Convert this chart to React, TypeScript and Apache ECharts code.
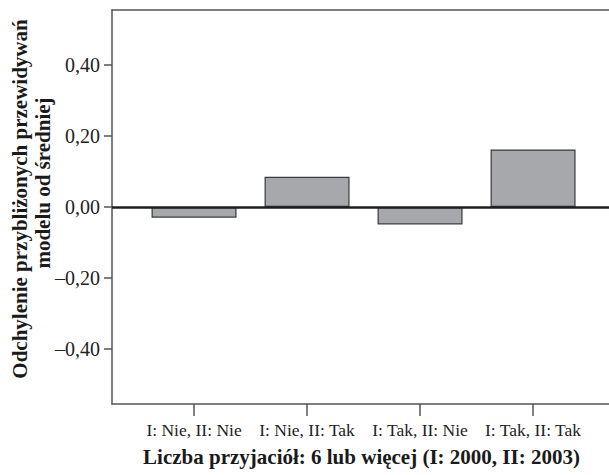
import React, { useEffect, useRef } from "react";
import * as echarts from "echarts";

const categories = ["I: Nie, II: Nie", "I: Nie, II: Tak", "I: Tak, II: Nie", "I: Tak, II: Tak"];
const values = [-0.03, 0.085, -0.049, 0.162];
const yTicks = [-0.4, -0.2, 0, 0.2, 0.4];
const xTitle = "Liczba przyjaciół: 6 lub więcej (I: 2000, II: 2003)";
const yTitle1 = "Odchylenie przybliżonych przewidywań";
const yTitle2 = "modelu od średniej";

const SERIF = "'Liberation Serif', 'DejaVu Serif', serif";

export default function App() {
  const ref = useRef<HTMLDivElement>(null);
  useEffect(() => {
    document.body.style.margin = "0";
    const chart = echarts.init(ref.current!, undefined, { renderer: "svg" });
    const xIdx = categories.map((_, i) => i);
    const xMin = -0.726;
    const xMax = 3.672;
    const lineStyle = { color: "#555", width: 1.5 };
    chart.setOption({
      animation: false,
      backgroundColor: "#ffffff",
      grid: {
        left: 112,
        right: 0,
        top: 10,
        bottom: 71,
        show: false,
      },
      xAxis: [
        {
          type: "value",
          min: xMin,
          max: xMax,
          splitLine: { show: false },
          axisLine: { show: true, onZero: false, lineStyle },
          axisTick: { show: true, customValues: xIdx, length: 12, lineStyle },
          axisLabel: {
            customValues: xIdx,
            formatter: (v: number) => categories[Math.round(v)] ?? "",
            margin: 17,
            fontFamily: SERIF,
            fontSize: 17.5,
            color: "#222",
          },
        },
        {
          type: "value",
          position: "top",
          min: xMin,
          max: xMax,
          splitLine: { show: false },
          axisLine: { show: true, onZero: false, lineStyle },
          axisTick: { show: false },
          axisLabel: { show: false },
        },
      ],
      yAxis: {
        type: "value",
        min: -0.555,
        max: 0.555,
        splitLine: { show: false },
        axisLine: { show: true, onZero: false, lineStyle },
        axisTick: { show: true, customValues: yTicks, length: 8, lineStyle },
        axisLabel: {
          customValues: yTicks,
          formatter: (v: number) => {
            const s = Math.abs(v).toFixed(2).replace(".", ",");
            return v < -1e-9 ? "–" + s : s;
          },
          margin: 12,
          fontFamily: SERIF,
          fontSize: 20,
          color: "#222",
        },
      },
      series: [
        {
          type: "bar",
          xAxisIndex: 0,
          data: values.map((v, i) => [i, v]),
          barWidth: 85,
          itemStyle: { color: "#a7a8ab", borderColor: "#3a3a3a", borderWidth: 1.2 },
          markLine: {
            silent: true,
            symbol: "none",
            label: { show: false },
            lineStyle: { color: "#1e1e1e", width: 2.5, type: "solid" },
            data: [{ yAxis: 0 }],
          },
        },
      ],
      graphic: [
        {
          type: "text",
          x: 361.5,
          y: 457,
          style: {
            text: xTitle,
            fontFamily: SERIF,
            fontWeight: "bold",
            fontSize: 21,
            fill: "#1a1a1a",
            align: "center",
            verticalAlign: "middle",
          },
        },
        {
          type: "text",
          x: 20,
          y: 199,
          rotation: Math.PI / 2,
          style: {
            text: yTitle1,
            fontFamily: SERIF,
            fontWeight: "bold",
            fontSize: 21,
            fill: "#1a1a1a",
            align: "center",
            verticalAlign: "middle",
          },
        },
        {
          type: "text",
          x: 43,
          y: 183,
          rotation: Math.PI / 2,
          style: {
            text: yTitle2,
            fontFamily: SERIF,
            fontWeight: "bold",
            fontSize: 21,
            fill: "#1a1a1a",
            align: "center",
            verticalAlign: "middle",
          },
        },
      ],
    });
    return () => chart.dispose();
  }, []);
  return <div ref={ref} style={{ width: 609, height: 475 }} />;
}
